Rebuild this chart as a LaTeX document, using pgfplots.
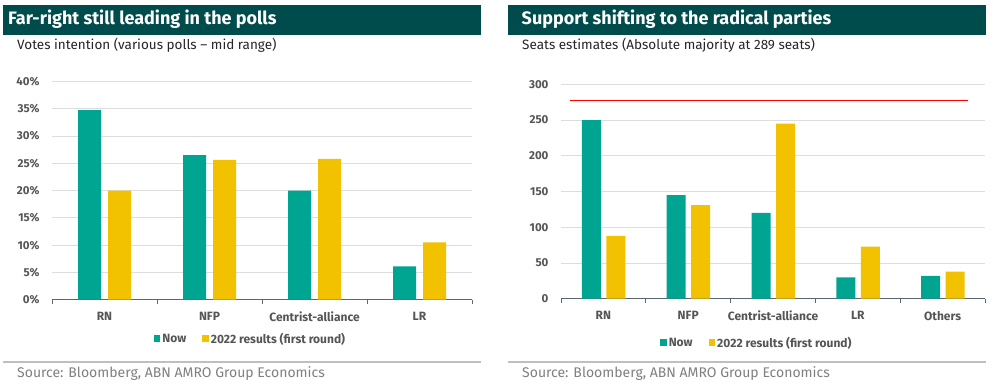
\documentclass[border=0pt]{standalone}
\usepackage{pgfplots}
\pgfplotsset{compat=1.18}
\usepackage{fontspec}
\setmainfont{Fira Sans}
\definecolor{hdr}{HTML}{004C4C}
\definecolor{teal1}{HTML}{00A591}
\definecolor{gold}{HTML}{F2C200}
\definecolor{axg}{HTML}{5B6770}
\definecolor{gridg}{HTML}{DDDDDD}
\definecolor{txt}{HTML}{555555}
\definecolor{srcg}{HTML}{808080}
\definecolor{sepg}{HTML}{BFBFBF}
\pgfplotsset{
  mystyle/.style={
    scale only axis,
    axis x line=bottom, axis y line=left,
    y axis line style={draw=none},
    x axis line style={draw=axg, line width=1.5pt, -},
    tick align=outside,
    major tick length=0pt,
    minor tick length=4pt,
    minor tick style={draw=axg, line width=1pt},
    ymajorgrids, grid style={gridg, line width=0.8pt},
    /pgf/number format/assume math mode=true,
    y tick label style={font=\fontsize{11.5}{13}\selectfont\bfseries, text=txt, xshift=-9pt},
    x tick label style={font=\fontsize{12}{14}\selectfont\bfseries, text=txt, yshift=-9pt},
    legend style={draw=none, fill=none, font=\fontsize{12}{14}\selectfont\bfseries, text=txt,
      legend columns=2, anchor=north, /tikz/every even column/.append style={column sep=14pt}},
    legend image code/.code={\fill[##1] (0pt,-3.5pt) rectangle (6.5pt,3.5pt);},
    clip=false,
  }
}
\begin{document}
\begin{tikzpicture}
\path[use as bounding box, fill=white] (0pt,0pt) rectangle (993pt,384pt);
% headers
\fill[hdr] (3pt,379pt) rectangle (481pt,349.3pt);
\fill[hdr] (508pt,379pt) rectangle (986pt,349.3pt);
\node[anchor=west, text=white, font=\fontsize{18}{20}\selectfont\bfseries, inner sep=0pt] at (8pt,364.5pt) {Far-right still leading in the polls};
\node[anchor=west, text=white, font=\fontsize{18}{20}\selectfont\bfseries, inner sep=0pt] at (521.5pt,364.5pt) {Support shifting to the radical parties};
\node[anchor=west, text=black!85, font=\fontsize{13.5}{15}\selectfont, inner sep=0pt] at (17pt,339pt) {Votes intention (various polls – mid range)};
\node[anchor=west, text=black!85, font=\fontsize{13.5}{15}\selectfont, inner sep=0pt] at (522pt,339pt) {Seats estimates (Absolute majority at 289 seats)};
% separators
\draw[sepg, line width=2pt] (3pt,22.3pt) -- (481pt,22.3pt);
\draw[sepg, line width=2pt] (508pt,22.3pt) -- (986pt,22.3pt);
\node[anchor=west, text=srcg, font=\fontsize{14}{16}\selectfont, inner sep=0pt] at (17pt,10.5pt) {Source: Bloomberg, ABN AMRO Group Economics};
\node[anchor=west, text=srcg, font=\fontsize{14}{16}\selectfont, inner sep=0pt] at (522pt,10.5pt) {Source: Bloomberg, ABN AMRO Group Economics};

% left chart
\begin{axis}[mystyle,
  at={(52pt,84.3pt)}, anchor=south west,
  width=420pt, height=218.4pt,
  xmin=-0.5, xmax=3.5, ymin=0, ymax=40,
  xtick={0,1,2,3}, xticklabels={RN,NFP,Centrist-alliance,LR},
  minor xtick={-0.5,0.5,1.5,2.5,3.5},
  ytick={0,5,...,40},
  yticklabel={\pgfmathprintnumber{\tick}\%},
  legend style={at={(0.4726,0)}, yshift=-29pt},
]
\addplot[ybar, bar width=23pt, bar shift=-15pt, fill=teal1, draw=none] coordinates {(0,34.7) (1,26.5) (2,20.0) (3,6.1)};
\addplot[ybar, bar width=23pt, bar shift=15pt, fill=gold, draw=none] coordinates {(0,20.0) (1,25.6) (2,25.8) (3,10.5)};
\legend{Now, 2022 results (first round)}
\end{axis}

% right chart
\begin{axis}[mystyle,
  at={(561pt,85.3pt)}, anchor=south west,
  width=424pt, height=214.4pt,
  xmin=-0.5, xmax=4.5, ymin=0, ymax=300,
  xtick={0,1,2,3,4}, xticklabels={RN,NFP,Centrist-alliance,LR,Others},
  minor xtick={-0.5,0.5,1.5,2.5,3.5,4.5},
  ytick={0,50,...,300},
  legend style={at={(0.462,0)}, yshift=-34pt},
]
\addplot[ybar, bar width=19pt, bar shift=-12pt, fill=teal1, draw=none] coordinates {(0,250) (1,145) (2,120) (3,30) (4,32)};
\addplot[ybar, bar width=19pt, bar shift=12.5pt, fill=gold, draw=none] coordinates {(0,88) (1,131) (2,245) (3,73) (4,38)};
\addplot[red, line width=1pt, forget plot] coordinates {(-0.394,278) (4.296,278)};
\legend{Now, 2022 results (first round)}
\end{axis}
\end{tikzpicture}
\end{document}
